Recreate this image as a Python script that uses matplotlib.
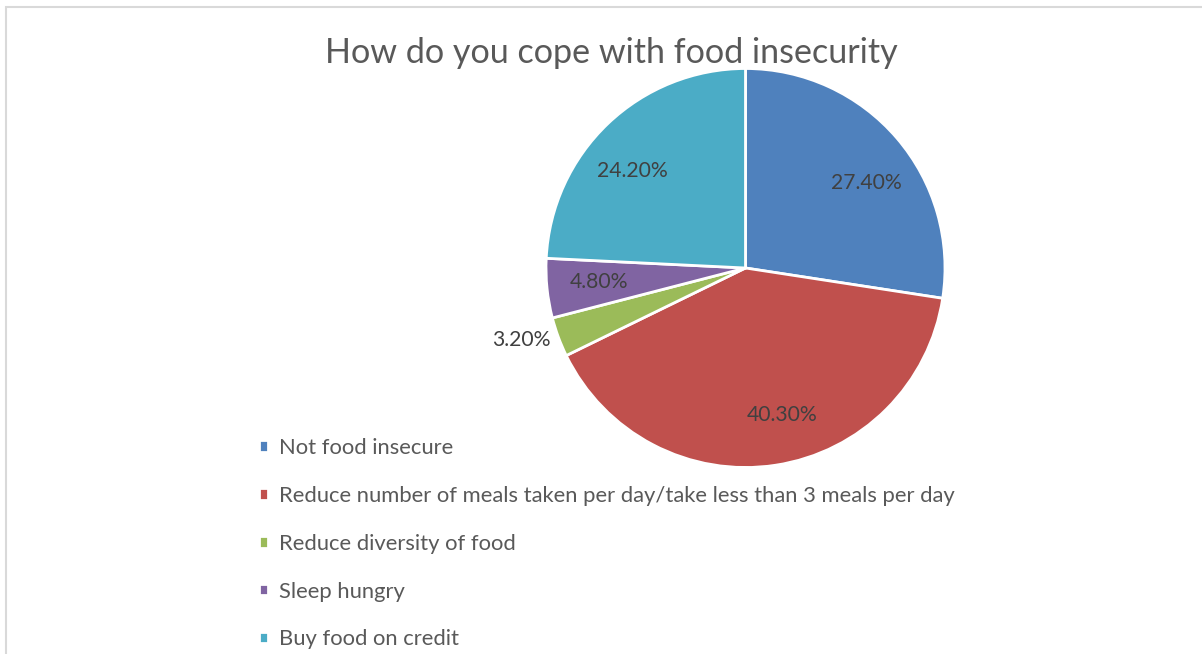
import numpy as np
import matplotlib.pyplot as plt
from matplotlib.patches import Rectangle

# survey shares (%)
categories = ['Not food insecure',
              'Reduce number of meals taken per day/take less than 3 meals per day',
              'Reduce diversity of food',
              'Sleep hungry',
              'Buy food on credit']
shares = [27.4, 40.3, 3.2, 4.8, 24.2]
label_texts = ['27.40%', '40.30%', '3.20%', '4.80%', '24.20%']
colors = ['#4F81BD', '#C0504D', '#9BBB59', '#8064A2', '#4BACC6']

# label placement: radius fraction and angular nudge (deg) from wedge middle
label_dist = [0.74, 0.76, 1.18, 0.74, 0.745]
label_turn = [-5.5, 5.2, -2.5, -0.3, 5.9]

plt.rcParams['font.family'] = ['Lato', 'DejaVu Sans']

W, H = 1202, 654
fig = plt.figure(figsize=(W / 100, H / 100), dpi=100)

# light chart frame, running off the right/bottom edges
fig.patches.append(Rectangle((6 / W, -0.1), 1.2, 1 - 7 / H + 0.1, transform=fig.transFigure,
                             fill=False, edgecolor='#d9d9d9', linewidth=1.5))

cx, cy, R = 745.5, 268, 199.5
ax = fig.add_axes([(cx - R) / W, (H - cy - R) / H, 2 * R / W, 2 * R / H])
wedges, _ = ax.pie(shares, colors=colors, startangle=90, counterclock=False,
                   wedgeprops=dict(edgecolor='white', linewidth=2))
ax.set_xlim(-1, 1)
ax.set_ylim(-1, 1)
ax.set_aspect('equal')
ax.axis('off')

for w, txt, d, turn in zip(wedges, label_texts, label_dist, label_turn):
    mid = np.deg2rad((w.theta1 + w.theta2) / 2 + turn)
    ax.text(d * np.cos(mid), d * np.sin(mid), txt, ha='center', va='center',
            fontsize=15.2, color='#404040')

fig.text(611 / W, 1 - 53 / H, 'How do you cope with food insecurity', ha='center', va='center',
         fontsize=24.6, color='#595959')

fig.legend(wedges, categories, loc='upper left', bbox_to_anchor=(259 / W, 1 - 438 / H),
           frameon=False, fontsize=15.8, labelcolor='#595959',
           handlelength=0.42, handleheight=0.42, handletextpad=0.5,
           labelspacing=1.27, borderpad=0, borderaxespad=0)

fig.savefig('out.png', dpi=100)
